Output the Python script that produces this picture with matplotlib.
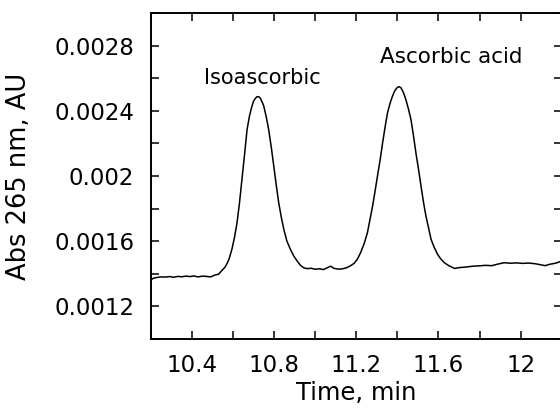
import matplotlib
matplotlib.use("Agg")
import matplotlib.pyplot as plt
from matplotlib.ticker import MultipleLocator, FuncFormatter

# chromatogram trace (time in min, absorbance in AU)
time = [10.20, 10.21, 10.23, 10.25, 10.27, 10.29, 10.31, 10.33, 10.35, 10.37,
        10.39, 10.41, 10.43, 10.45, 10.47, 10.49, 10.51, 10.53, 10.545, 10.56,
        10.57, 10.58, 10.594, 10.607, 10.619, 10.631, 10.643, 10.656, 10.668, 10.68,
        10.692, 10.70, 10.708, 10.716, 10.724, 10.732, 10.74, 10.749, 10.761, 10.773,
        10.786, 10.798, 10.81, 10.822, 10.835, 10.847, 10.862, 10.879, 10.895, 10.912,
        10.928, 10.944, 10.96, 10.98, 11.00, 11.02, 11.04, 11.06, 11.075, 11.09,
        11.11, 11.13, 11.15, 11.17, 11.19, 11.205, 11.221, 11.238, 11.254, 11.266,
        11.279, 11.291, 11.303, 11.316, 11.328, 11.34, 11.352, 11.364, 11.376, 11.388,
        11.40, 11.409, 11.418, 11.43, 11.441, 11.453, 11.466, 11.478, 11.49, 11.503,
        11.515, 11.527, 11.539, 11.552, 11.564, 11.58, 11.596, 11.612, 11.629, 11.65,
        11.678, 11.70, 11.72, 11.743, 11.77, 11.80, 11.83, 11.86, 11.89, 11.92,
        11.95, 11.98, 12.01, 12.04, 12.07, 12.10, 12.12, 12.14, 12.17, 12.20]

absorbance = [0.001362, 0.001372, 0.001378, 0.001381, 0.001380, 0.001383, 0.001379, 0.001384, 0.001382, 0.001386,
              0.001383, 0.001387, 0.001381, 0.001386, 0.001384, 0.001381, 0.001392, 0.001398, 0.001420, 0.001440,
              0.001462, 0.001490, 0.001550, 0.001625, 0.001713, 0.001835, 0.001979, 0.002135, 0.002286, 0.002370,
              0.002430, 0.002460, 0.002476, 0.002486, 0.002487, 0.002478, 0.002458, 0.002430, 0.002365, 0.002286,
              0.002175, 0.002061, 0.001945, 0.001836, 0.001745, 0.001672, 0.001600, 0.001550, 0.001510, 0.001478,
              0.001452, 0.001437, 0.001432, 0.001434, 0.001428, 0.001431, 0.001426, 0.001438, 0.001447, 0.001434,
              0.001429, 0.001430, 0.001436, 0.001448, 0.001465, 0.001490, 0.001530, 0.001585, 0.001652, 0.001730,
              0.001815, 0.001905, 0.002000, 0.002100, 0.002204, 0.002300, 0.002388, 0.002445, 0.002490, 0.002525,
              0.002544, 0.002548, 0.002540, 0.002510, 0.002470, 0.002415, 0.002347, 0.002250, 0.002143, 0.002040,
              0.001938, 0.001840, 0.001754, 0.001680, 0.001611, 0.001560, 0.001519, 0.001490, 0.001468, 0.001450,
              0.001433, 0.001438, 0.001440, 0.001443, 0.001447, 0.001449, 0.001452, 0.001450, 0.001460, 0.001468,
              0.001465, 0.001467, 0.001464, 0.001466, 0.001462, 0.001455, 0.001450, 0.001458, 0.001465, 0.001478]

peak_names = ["Isoascorbic", "Ascorbic acid"]
peak_label_pos = [(10.742, 0.002562), (11.661, 0.002695)]

fig = plt.figure(figsize=(5.6, 4.09), dpi=100)
ax = fig.add_axes([0.2696, 0.1711, 0.7334, 0.7971])

ax.plot(time, absorbance, color="black", lw=1.1)

ax.set_xlim(10.2, 12.2)
ax.set_ylim(0.001, 0.003)

ax.xaxis.set_major_locator(MultipleLocator(0.4))
ax.xaxis.set_minor_locator(MultipleLocator(0.2))
ax.yaxis.set_major_locator(MultipleLocator(0.0004))
ax.yaxis.set_minor_locator(MultipleLocator(0.0002))
ax.xaxis.set_major_formatter(FuncFormatter(lambda v, p: f"{v:g}"))
ax.yaxis.set_major_formatter(FuncFormatter(lambda v, p: f"{round(v, 5):g}"))

ax.tick_params(which="both", direction="in", top=True, right=True,
               length=6, width=1.1)
ax.tick_params(axis="y", which="major", pad=12)
ax.tick_params(axis="x", which="major", pad=11)
for lab in ax.get_xticklabels() + ax.get_yticklabels():
    lab.set_fontsize(16.5)
    lab.set_family("DejaVu Sans")

for s in ax.spines.values():
    s.set_linewidth(1.4)

ax.set_xlabel("Time, min", fontsize=17.5, labelpad=3)
ax.set_ylabel("Abs 265 nm, AU", fontsize=18.5)
ax.yaxis.set_label_coords(-0.29, 0.5)

sizes = [15, 15.5]
for name, (tx, ty), fs in zip(peak_names, peak_label_pos, sizes):
    ax.text(tx, ty, name, ha="center", va="baseline", fontsize=fs)

fig.savefig("out.png", dpi=100)
